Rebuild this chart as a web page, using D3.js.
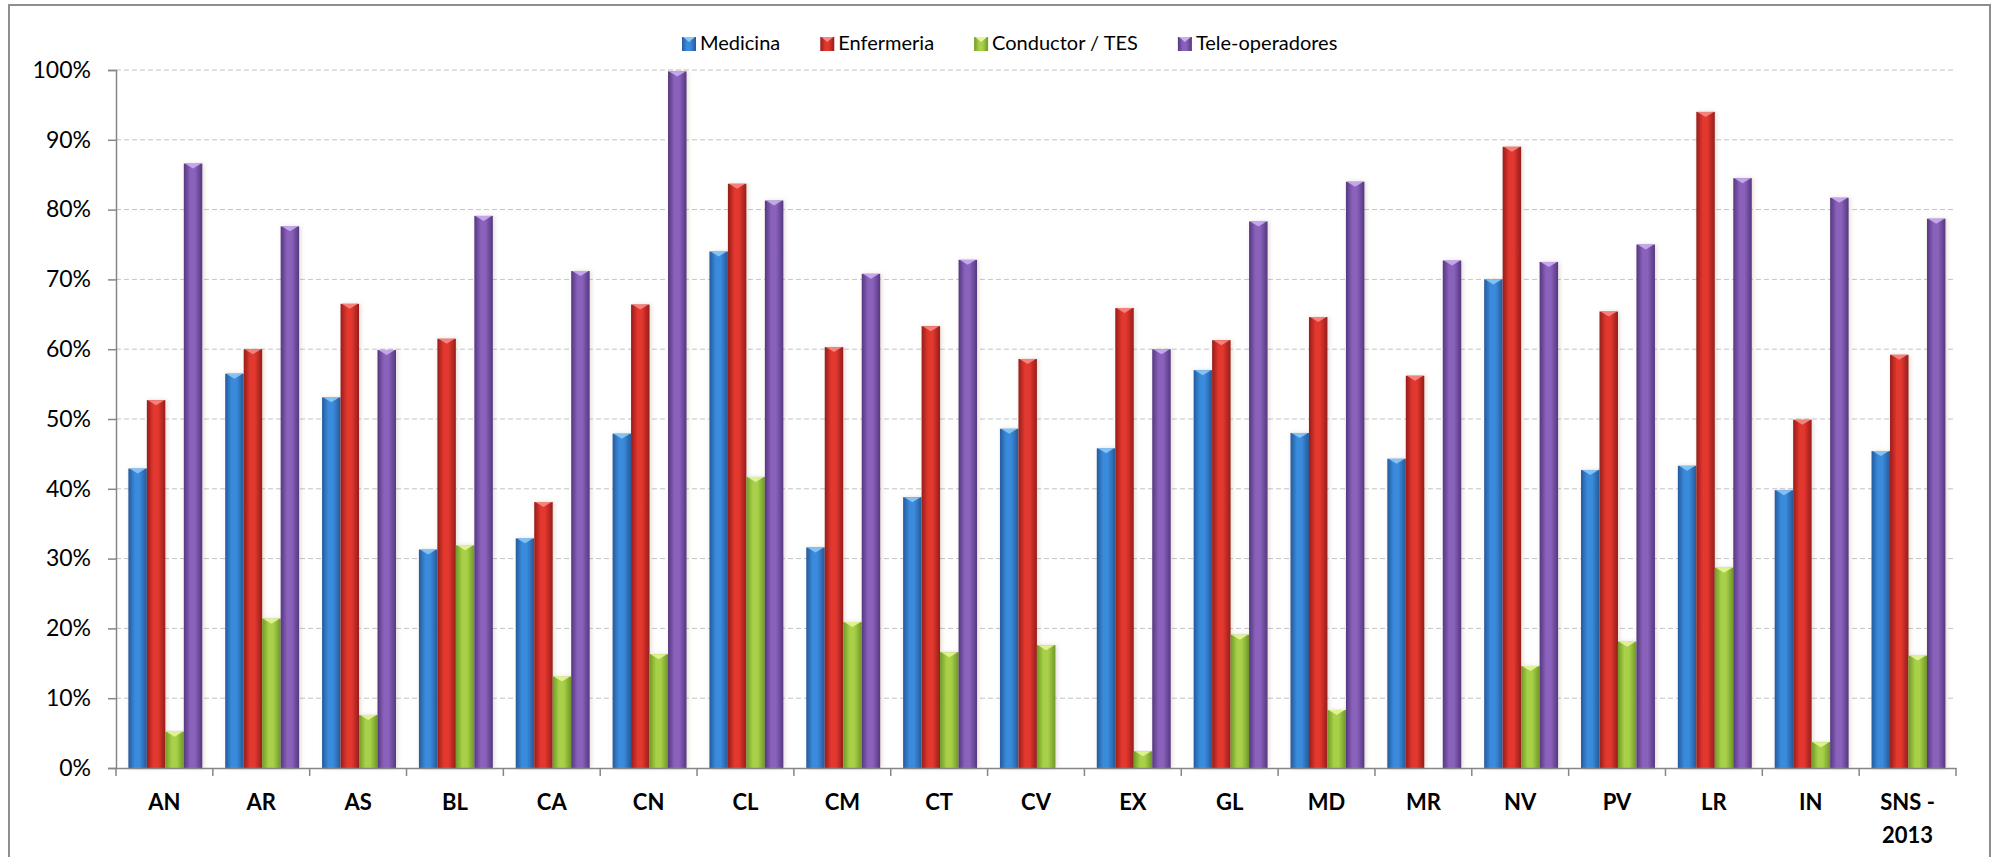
<!DOCTYPE html>
<html>
<head>
<meta charset="utf-8">
<script src="https://cdn.jsdelivr.net/npm/d3@7"></script>
<style>
  html, body { margin: 0; padding: 0; background: #fff; }
  svg { display: block; }
</style>
</head>
<body>
<svg id="chart"></svg>
<script>
// data
const categories = ["AN", "AR", "AS", "BL", "CA", "CN", "CL", "CM", "CT", "CV",
  "EX", "GL", "MD", "MR", "NV", "PV", "LR", "IN", "SNS - 2013"];
const seriesNames = ["Medicina", "Enfermeria", "Conductor / TES", "Tele-operadores"];

const medicina = [42.9, 56.5, 53.1, 31.3, 32.9, 47.9, 74.0, 31.6, 38.8, 48.6,
  45.8, 57.0, 48.0, 44.3, 70.0, 42.7, 43.3, 39.8, 45.4];
const enfermeria = [52.7, 60.0, 66.5, 61.5, 38.1, 66.4, 83.7, 60.3, 63.3, 58.6,
  65.9, 61.3, 64.6, 56.2, 89.0, 65.4, 94.0, 49.9, 59.2];
const conductor = [5.2, 21.4, 7.6, 31.9, 13.1, 16.3, 41.7, 20.9, 16.6, 17.6,
  2.4, 19.1, 8.3, 0, 14.6, 18.1, 28.7, 3.7, 16.1];
const teleoperadores = [86.6, 77.6, 59.9, 79.1, 71.2, 99.8, 81.3, 70.8, 72.8, 0,
  60.0, 78.3, 84.0, 72.7, 72.5, 75.0, 84.5, 81.7, 78.7];

const yTicks = [0, 10, 20, 30, 40, 50, 60, 70, 80, 90, 100];

const seriesValues = [medicina, enfermeria, conductor, teleoperadores];

// colours per series: edge, mid, light top
const palette = [
  { dark: "#245a9c", mid: "#3b8bdc", light: "#8cc8f4" },
  { dark: "#961d1a", mid: "#e2372f", light: "#f68a84" },
  { dark: "#6f9a25", mid: "#a8d04a", light: "#e4f59a" },
  { dark: "#55377f", mid: "#8a62bc", light: "#c9aef0" }
];

const W = 1995, H = 857;
const plot = { left: 116, right: 1956, top: 70, bottom: 768 };

const svg = d3.select("#chart")
  .attr("width", W)
  .attr("height", H)
  .style("font-family", "Lato, 'Open Sans', sans-serif");

// outer frame
svg.append("rect")
  .attr("x", 9).attr("y", 5)
  .attr("width", 1981).attr("height", 900)
  .attr("fill", "#fff")
  .attr("stroke", "#8e8e8e")
  .attr("stroke-width", 2);

const defs = svg.append("defs");

palette.forEach((p, i) => {
  const g = defs.append("linearGradient")
    .attr("id", "grad" + i)
    .attr("x1", "0%").attr("x2", "100%")
    .attr("y1", "0%").attr("y2", "0%");
  g.append("stop").attr("offset", "0%").attr("stop-color", p.dark);
  g.append("stop").attr("offset", "35%").attr("stop-color", p.mid);
  g.append("stop").attr("offset", "60%").attr("stop-color", p.mid);
  g.append("stop").attr("offset", "100%").attr("stop-color", p.dark);
});

const shadow = defs.append("filter")
  .attr("id", "shadow")
  .attr("x", "-40%").attr("y", "-5%")
  .attr("width", "180%").attr("height", "110%");
shadow.append("feDropShadow")
  .attr("dx", 1.5).attr("dy", 0)
  .attr("stdDeviation", 2)
  .attr("flood-color", "#7a5a40")
  .attr("flood-opacity", 0.22);

// scales
const x0 = d3.scaleBand()
  .domain(categories)
  .range([plot.left, plot.right])
  .padding(0);

const x1 = d3.scaleBand()
  .domain(seriesNames)
  .range([0, x0.bandwidth()])
  .paddingInner(0)
  .paddingOuter(0.62)
  .align(0.54);

const y = d3.scaleLinear()
  .domain([0, 100])
  .range([plot.bottom, plot.top]);

// gridlines
svg.append("g")
  .selectAll("line")
  .data(yTicks.filter(d => d > 0))
  .enter().append("line")
  .attr("x1", plot.left)
  .attr("x2", plot.right)
  .attr("y1", d => y(d))
  .attr("y2", d => y(d))
  .attr("stroke", "#c4c4c4")
  .attr("stroke-width", 1)
  .attr("stroke-dasharray", "5,3");

// bars
const groups = svg.append("g")
  .selectAll("g")
  .data(categories)
  .enter().append("g")
  .attr("transform", d => `translate(${x0(d)},0)`);

seriesNames.forEach((name, si) => {
  const bw = x1.bandwidth();
  const cells = groups.append("g")
    .datum((d, ci) => ({ cat: d, value: seriesValues[si][ci] }))
    .filter(d => d.value > 0);

  cells.append("rect")
    .attr("x", x1(name))
    .attr("y", d => y(d.value))
    .attr("width", bw)
    .attr("height", d => y(0) - y(d.value))
    .attr("fill", `url(#grad${si})`)
    .attr("filter", "url(#shadow)");

  // light bevel on the top of each bar
  cells.append("path")
    .attr("d", d => {
      const top = y(d.value);
      const xl = x1(name);
      return `M${xl + 1},${top} L${xl + bw - 1},${top} L${xl + bw / 2},${top + 5} Z`;
    })
    .attr("fill", palette[si].light)
    .attr("opacity", 0.9);
});

// y axis
const yAxis = d3.axisLeft(y)
  .tickValues(yTicks)
  .tickFormat(d => d + "%")
  .tickSize(8)
  .tickPadding(17);

const yg = svg.append("g")
  .attr("transform", `translate(${plot.left},0)`)
  .call(yAxis);
yg.select(".domain").attr("stroke", "#868686").attr("stroke-width", 1.5);
yg.selectAll(".tick line").attr("stroke", "#868686").attr("stroke-width", 1.5);
yg.selectAll(".tick text")
  .attr("font-size", "23px")
  .attr("fill", "#000")
  .attr("font-family", "Lato, sans-serif");

// x axis
const xAxis = d3.axisBottom(x0).tickSize(0).tickFormat("");
const xg = svg.append("g")
  .attr("transform", `translate(0,${plot.bottom})`)
  .call(xAxis);
xg.select(".domain").attr("stroke", "#868686").attr("stroke-width", 1.5);

// boundary ticks between categories
const bounds = categories.map(c => x0(c)).concat([x0(categories[categories.length - 1]) + x0.bandwidth()]);
xg.append("g")
  .selectAll("line")
  .data(bounds)
  .enter().append("line")
  .attr("x1", d => d).attr("x2", d => d)
  .attr("y1", 0).attr("y2", 8)
  .attr("stroke", "#868686")
  .attr("stroke-width", 1.5);

// category labels (wrap "SNS - 2013" onto two lines)
const labels = svg.append("g")
  .selectAll("text")
  .data(categories)
  .enter().append("text")
  .attr("x", d => x0(d) + x0.bandwidth() / 2)
  .attr("y", 810)
  .attr("text-anchor", "middle")
  .attr("font-size", "22px")
  .attr("font-weight", "bold")
  .attr("fill", "#000");

labels.each(function (d) {
  const parts = d === "SNS - 2013" ? ["SNS -", "2013"] : [d];
  const t = d3.select(this);
  parts.forEach((p, i) => {
    t.append("tspan")
      .attr("x", x0(d) + x0.bandwidth() / 2)
      .attr("dy", i === 0 ? 0 : 33)
      .text(p);
  });
});

// legend
const legend = svg.append("g");
let lx = 682;
seriesNames.forEach((name, i) => {
  const item = legend.append("g").attr("transform", `translate(${lx},0)`);
  item.append("rect")
    .attr("x", 0).attr("y", 37)
    .attr("width", 14).attr("height", 14)
    .attr("fill", `url(#grad${i})`);
  item.append("path")
    .attr("d", "M1,37 L13,37 L7,42 Z")
    .attr("fill", palette[i].light);
  const txt = item.append("text")
    .attr("x", 18)
    .attr("y", 50)
    .attr("font-size", "20px")
    .attr("fill", "#000")
    .text(name);
  lx += 18 + txt.node().getComputedTextLength() + 40;
});
</script>
</body>
</html>
